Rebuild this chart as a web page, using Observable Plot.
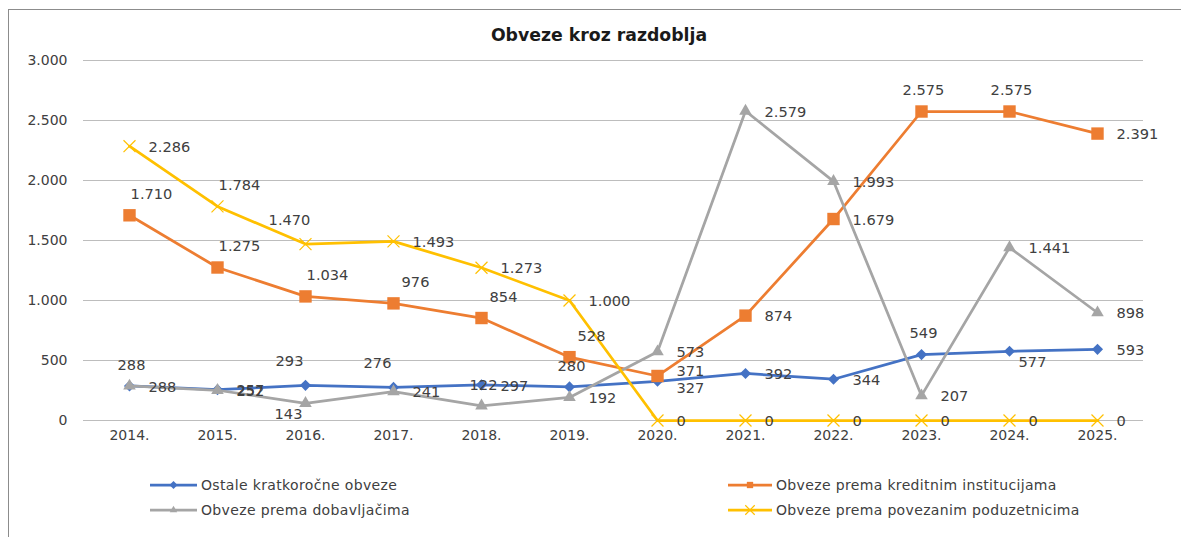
<!DOCTYPE html>
<html><head><meta charset="utf-8">
<script src="https://cdn.jsdelivr.net/npm/d3@7"></script>
<script src="https://cdn.jsdelivr.net/npm/@observablehq/plot@0.6"></script>
<style>
body{margin:0;background:#fff;overflow:hidden;font-family:"DejaVu Sans",sans-serif;}
#frame{position:absolute;left:8px;top:9px;width:1400px;height:800px;border-left:1px solid #8c8c8c;border-top:1px solid #8c8c8c;pointer-events:none;}
#title{position:relative;height:50px;box-sizing:border-box;padding-top:24px;padding-left:17px;text-align:center;font-weight:bold;font-size:17.3px;line-height:22px;color:#1a1a1a;}
#chart{position:relative;height:410px;}
#legend{position:relative;height:77px;font-size:14px;letter-spacing:0.35px;color:#404040;}
.item{position:absolute;display:flex;align-items:center;height:20px;white-space:nowrap;}
.item svg{margin-right:4px;}
</style></head><body>
<div id="frame"></div>
<div id="title">Obveze kroz razdoblja</div>
<div id="chart"></div>
<div id="legend"></div>
<script>
const years = ["2014.","2015.","2016.","2017.","2018.","2019.","2020.","2021.","2022.","2023.","2024.","2025."];
const ostale = [288,257,293,276,297,280,327,392,344,549,577,593];
const kreditne = [1710,1275,1034,976,854,528,371,874,1679,2575,2575,2391];
const dobavljaci = [288,252,143,241,122,192,573,2579,1993,207,1441,898];
const povezani = [2286,1784,1470,1493,1273,1000,0,0,0,0,0,0];
const seriesNames = ["Ostale kratkoročne obveze","Obveze prema kreditnim institucijama","Obveze prema dobavljačima","Obveze prema povezanim poduzetnicima"];
const yTicks = [0,500,1000,1500,2000,2500,3000];

// label placement codes (Excel-like data label positions)
const ostaleLabelPos = ["a","r","al","al","r","a","rd","r","r","a","br","r"];
const kreditneLabelPos = ["ar","ar","ar","ar","ar","ar","ru","r","r","a","a","r"];
const dobavljaciLabelPos = ["r","r","bl","r","a","r","r","r","r","r","r","r"];
const povezaniLabelPos = ["r","ar","al","r","r","r","r","r","r","r","r","r"];

const placements = {
  r:  {dx: 19, dy: 1, textAnchor: "start"},
  ru: {dx: 19, dy: -5, textAnchor: "start"},
  rd: {dx: 19, dy: 7, textAnchor: "start"},
  a:  {dx: 2, dy: -21, textAnchor: "middle"},
  ar: {dx: 22, dy: -21, textAnchor: "middle"},
  al: {dx: -16, dy: -24, textAnchor: "middle"},
  bl: {dx: -17, dy: 11, textAnchor: "middle"},
  br: {dx: 23, dy: 11, textAnchor: "middle"}
};

const series = [
  {name: seriesNames[0], values: ostale, pos: ostaleLabelPos, color: "#4472C4", symbol: "diamond2", r: 5, mode: "fill"},
  {name: seriesNames[1], values: kreditne, pos: kreditneLabelPos, color: "#ED7D31", symbol: "square", r: 7, mode: "fill"},
  {name: seriesNames[2], values: dobavljaci, pos: dobavljaciLabelPos, color: "#A5A5A5", symbol: "triangle2", r: 6, mode: "fill"},
  {name: seriesNames[3], values: povezani, pos: povezaniLabelPos, color: "#FFC000", symbol: "times", r: 5.5, mode: "stroke"}
];

const fmt = v => d3.format(",")(v).replace(/,/g, ".");

const rows = series.flatMap(s => years.map((yr, i) => ({series: s.name, year: yr, value: s.values[i], pos: s.pos[i]})));

const marks = [
  Plot.ruleY(yTicks, {stroke: "#bdbdbd", strokeWidth: 1}),
  Plot.axisY({ticks: yTicks, tickFormat: fmt, tickSize: 0, tickPadding: 16, label: null, fill: "#404040"}),
  Plot.axisX({tickSize: 0, tickPadding: 10, label: null, fill: "#404040"})
];
for (const s of series) {
  const d = rows.filter(r => r.series === s.name);
  marks.push(Plot.line(d, {x: "year", y: "value", stroke: s.color, strokeWidth: 2.75}));
  if (s.mode === "fill") {
    marks.push(Plot.dot(d, {x: "year", y: "value", symbol: s.symbol, r: s.r, fill: s.color, stroke: "none"}));
  } else {
    marks.push(Plot.dot(d, {x: "year", y: "value", symbol: s.symbol, r: s.r, stroke: s.color, strokeWidth: 1.2, fill: "none"}));
  }
}
for (const [code, p] of Object.entries(placements)) {
  marks.push(Plot.text(rows.filter(r => r.pos === code), {
    x: "year", y: "value", text: d => fmt(d.value),
    dx: p.dx, dy: p.dy, textAnchor: p.textAnchor, fill: "#404040", fontSize: 14.6
  }));
}

const chart = Plot.plot({
  width: 1181, height: 410,
  marginTop: 10, marginBottom: 40, marginLeft: 83, marginRight: 38,
  x: {type: "point", domain: years, padding: 0.5},
  y: {domain: [0, 3000]},
  style: {fontFamily: "DejaVu Sans, sans-serif", fontSize: "14px", color: "#404040", background: "transparent", overflow: "visible"},
  marks
});
document.getElementById("chart").append(chart);

// legend
const legend = document.getElementById("legend");
const legendSpots = [
  {left: 150, top: 15}, {left: 728, top: 15},
  {left: 150, top: 40}, {left: 728, top: 40}
];
const symMap = {diamond2: d3.symbolDiamond2, square: d3.symbolSquare, triangle2: d3.symbolTriangle2, times: d3.symbolTimes};
series.forEach((s, i) => {
  const div = document.createElement("div");
  div.className = "item";
  div.style.left = legendSpots[i].left + "px";
  div.style.top = legendSpots[i].top + "px";
  const w = i % 2 === 0 ? 47 : 44;
  const path = d3.symbol(symMap[s.symbol], s.mode === "fill" ? 40 : 60)();
  const markerAttr = s.mode === "fill" ? `fill="${s.color}"` : `fill="none" stroke="${s.color}" stroke-width="1.2"`;
  div.innerHTML = `<svg width="${w}" height="14"><line x1="0" x2="${w}" y1="7" y2="7" stroke="${s.color}" stroke-width="2.75"/><path transform="translate(${w/2},7)" d="${path}" ${markerAttr}/></svg><span>${s.name}</span>`;
  legend.append(div);
});
</script>
</body></html>
